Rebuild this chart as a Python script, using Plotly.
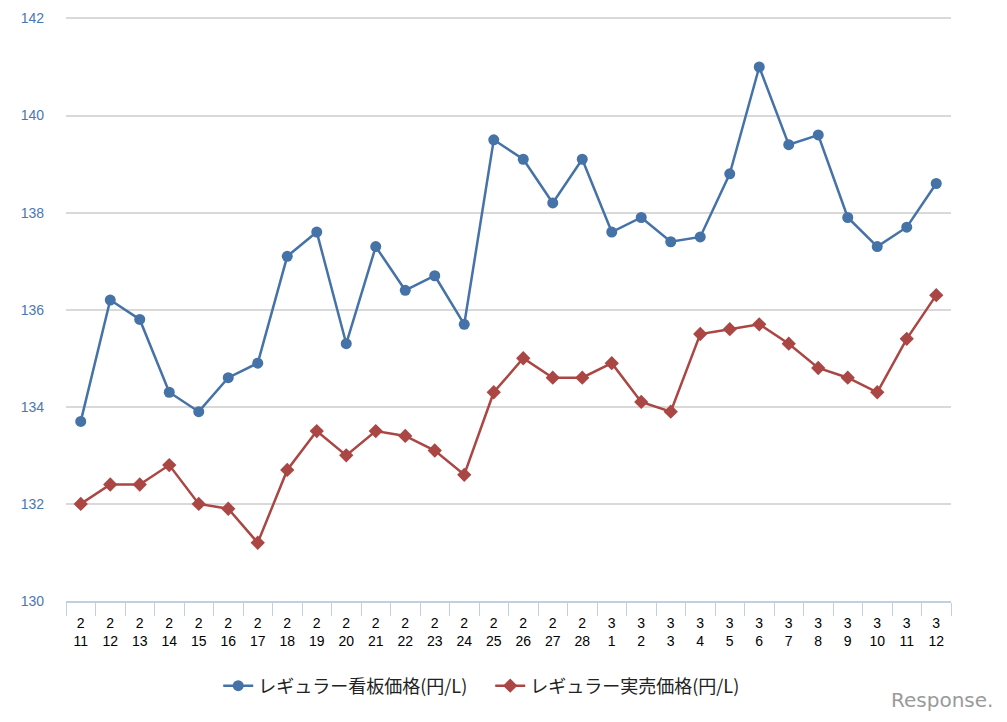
import plotly.graph_objects as go

months = ["2"] * 18 + ["3"] * 12
days = list(range(11, 29)) + list(range(1, 13))
categories = [f"{m}<br>{d}" for m, d in zip(months, days)]

signboard = [133.7, 136.2, 135.8, 134.3, 133.9, 134.6, 134.9, 137.1, 137.6, 135.3,
             137.3, 136.4, 136.7, 135.7, 139.5, 139.1, 138.2, 139.1, 137.6, 137.9,
             137.4, 137.5, 138.8, 141.0, 139.4, 139.6, 137.9, 137.3, 137.7, 138.6]
actual = [132.0, 132.4, 132.4, 132.8, 132.0, 131.9, 131.2, 132.7, 133.5, 133.0,
          133.5, 133.4, 133.1, 132.6, 134.3, 135.0, 134.6, 134.6, 134.9, 134.1,
          133.9, 135.5, 135.6, 135.7, 135.3, 134.8, 134.6, 134.3, 135.4, 136.3]

name_sign = "レギュラー看板価格(円/L)"
name_actual = "レギュラー実売価格(円/L)"

fig = go.Figure()
fig.add_trace(go.Scatter(
    x=categories, y=signboard, name=name_sign, mode="lines+markers",
    line=dict(color="#4572a7", width=2.5),
    marker=dict(symbol="circle", size=11, color="#4572a7"),
))
fig.add_trace(go.Scatter(
    x=categories, y=actual, name=name_actual, mode="lines+markers",
    line=dict(color="#aa4643", width=2.5),
    marker=dict(symbol="diamond", size=11, color="#aa4643"),
))

fig.update_layout(
    width=1007, height=722,
    margin=dict(l=58, r=64, t=9, b=129, autoexpand=False),
    paper_bgcolor="white", plot_bgcolor="white",
    font=dict(family="Liberation Sans, Noto Sans CJK JP", size=14, color="#000000"),
    showlegend=True,
    legend=dict(orientation="h", x=0.172, xanchor="left", y=-0.1455, yanchor="middle",
                font=dict(family="Noto Sans CJK JP", size=18, color="#222222"),
                itemwidth=30, tracegroupgap=0, entrywidth=227, entrywidthmode="pixels"),
    xaxis=dict(
        type="category", showgrid=False, showline=True, linecolor="#c0d0e0", linewidth=2,
        ticks="outside", tickson="boundaries", ticklen=13, tickcolor="#c0d0e0", tickwidth=1,
        tickfont=dict(family="Liberation Sans", size=14, color="#000000"),
        ticklabelstandoff=8, automargin=False,
        range=[-0.5, 29.5], fixedrange=True,
    ),
    yaxis=dict(
        range=[130, 142.03], tickvals=[130, 132, 134, 136, 138, 140, 142],
        showgrid=True, gridcolor="#d9d9d9", gridwidth=2, automargin=False,
        zeroline=False, showline=False, ticks="", ticklabelstandoff=21,
        tickfont=dict(family="Liberation Sans", size=14, color="#4a78b0"),
    ),
    annotations=[dict(
        text="Response.", x=1.0497, y=-0.1695, xref="paper", yref="paper",
        xanchor="right", yanchor="middle", showarrow=False,
        font=dict(family="DejaVu Sans", size=20, color="#9a9a9a"),
    )],
)

fig.write_html("out.html")
